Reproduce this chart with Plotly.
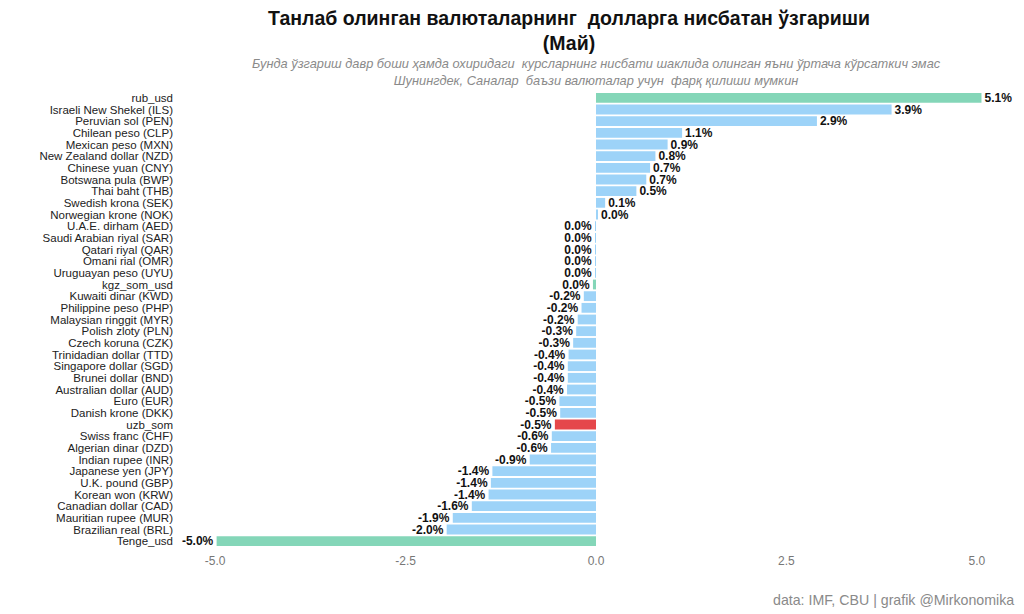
import plotly.graph_objects as go

categories = [
    "rub_usd", "Israeli New Shekel (ILS)", "Peruvian sol (PEN)", "Chilean peso (CLP)",
    "Mexican peso (MXN)", "New Zealand dollar (NZD)", "Chinese yuan (CNY)",
    "Botswana pula (BWP)", "Thai baht (THB)", "Swedish krona (SEK)", "Norwegian krone (NOK)",
    "U.A.E. dirham (AED)", "Saudi Arabian riyal (SAR)", "Qatari riyal (QAR)", "Omani rial (OMR)",
    "Uruguayan peso (UYU)", "kgz_som_usd", "Kuwaiti dinar (KWD)", "Philippine peso (PHP)",
    "Malaysian ringgit (MYR)", "Polish zloty (PLN)", "Czech koruna (CZK)",
    "Trinidadian dollar (TTD)", "Singapore dollar (SGD)", "Brunei dollar (BND)",
    "Australian dollar (AUD)", "Euro (EUR)", "Danish krone (DKK)", "uzb_som",
    "Swiss franc (CHF)", "Algerian dinar (DZD)", "Indian rupee (INR)", "Japanese yen (JPY)",
    "U.K. pound (GBP)", "Korean won (KRW)", "Canadian dollar (CAD)", "Mauritian rupee (MUR)",
    "Brazilian real (BRL)", "Tenge_usd",
]
values = [
    5.06, 3.88, 2.90, 1.13, 0.94, 0.78, 0.71, 0.66, 0.53, 0.12, 0.02,
    -0.001, -0.001, -0.001, -0.001, -0.01, -0.04,
    -0.16, -0.19, -0.24, -0.26, -0.30, -0.36, -0.37, -0.37, -0.38, -0.48, -0.47,
    -0.54, -0.58, -0.59, -0.87, -1.36, -1.38, -1.41, -1.63, -1.88, -1.96, -4.98,
]
highlight_green = ["rub_usd", "kgz_som_usd", "Tenge_usd"]
highlight_red = ["uzb_som"]
x_ticks = [-5.0, -2.5, 0.0, 2.5, 5.0]
x_tick_labels = [f"{t:.1f}" for t in x_ticks]

BLUE = "#9dd3f8"
GREEN = "#84d6b8"
RED = "#e5474b"

colors = []
for c in categories:
    if c in highlight_green:
        colors.append(GREEN)
    elif c in highlight_red:
        colors.append(RED)
    else:
        colors.append(BLUE)

labels = [f"{(round(v, 1) + 0.0):.1f}%" for v in values]

FONT = "Liberation Sans, Arial, sans-serif"

fig = go.Figure(go.Bar(
    x=values, y=categories, orientation="h",
    marker=dict(color=colors, line=dict(width=0)),
    text=labels, textposition="outside", constraintext="none",
    textfont=dict(family=FONT, size=12, color="#111111"),
    texttemplate="<b>%{text}</b>",
    cliponaxis=False, hoverinfo="x+y",
))

fig.update_layout(
    width=1024, height=614,
    margin=dict(l=177, r=9, t=92, b=67),
    paper_bgcolor="white", plot_bgcolor="white",
    bargap=0.16,
    showlegend=False,
    font=dict(family=FONT),
    title=dict(
        text="<b>Танлаб олинган валюталарнинг  долларга нисбатан ўзгариши<br>(Май)</b>",
        x=569 / 1024, xanchor="center", xref="container",
        y=0.96, yanchor="top", yref="container",
        font=dict(size=19.5, color="#111111", family=FONT),
    ),
    xaxis=dict(
        range=[-5.5, 5.5], tickmode="array", tickvals=x_ticks, ticktext=x_tick_labels,
        showgrid=False, zeroline=False, showline=False, ticks="",
        tickfont=dict(size=12, color="#777777"), ticklabelstandoff=5,
    ),
    yaxis=dict(
        categoryorder="array", categoryarray=categories[::-1],
        tickmode="array", tickvals=categories, ticktext=categories,
        showgrid=False, zeroline=False, showline=False, ticks="",
        tickfont=dict(size=11.5, color="#222222", family=FONT), ticklabelstandoff=3,
    ),
    annotations=[
        dict(
            text="<i>Бунда ўзгариш давр боши ҳамда охиридаги  курсларнинг нисбати шаклида олинган яъни ўртача кўрсаткич эмас<br>Шунингдек, Саналар  баъзи валюталар учун  фарқ қилиши мумкин</i>",
            x=0.501, xref="paper", xanchor="center",
            y=1.0835, yref="paper", yanchor="top",
            showarrow=False, align="center",
            font=dict(size=12.8, color="#8a8a8a"),
        ),
        dict(
            text="data: IMF, CBU | grafik @Mirkonomika",
            x=1.0012, xref="paper", xanchor="right",
            y=-0.0945, yref="paper", yanchor="top",
            showarrow=False,
            font=dict(size=14.2, color="#8a8a8a"),
        ),
    ],
)

fig.write_html("out.html")
